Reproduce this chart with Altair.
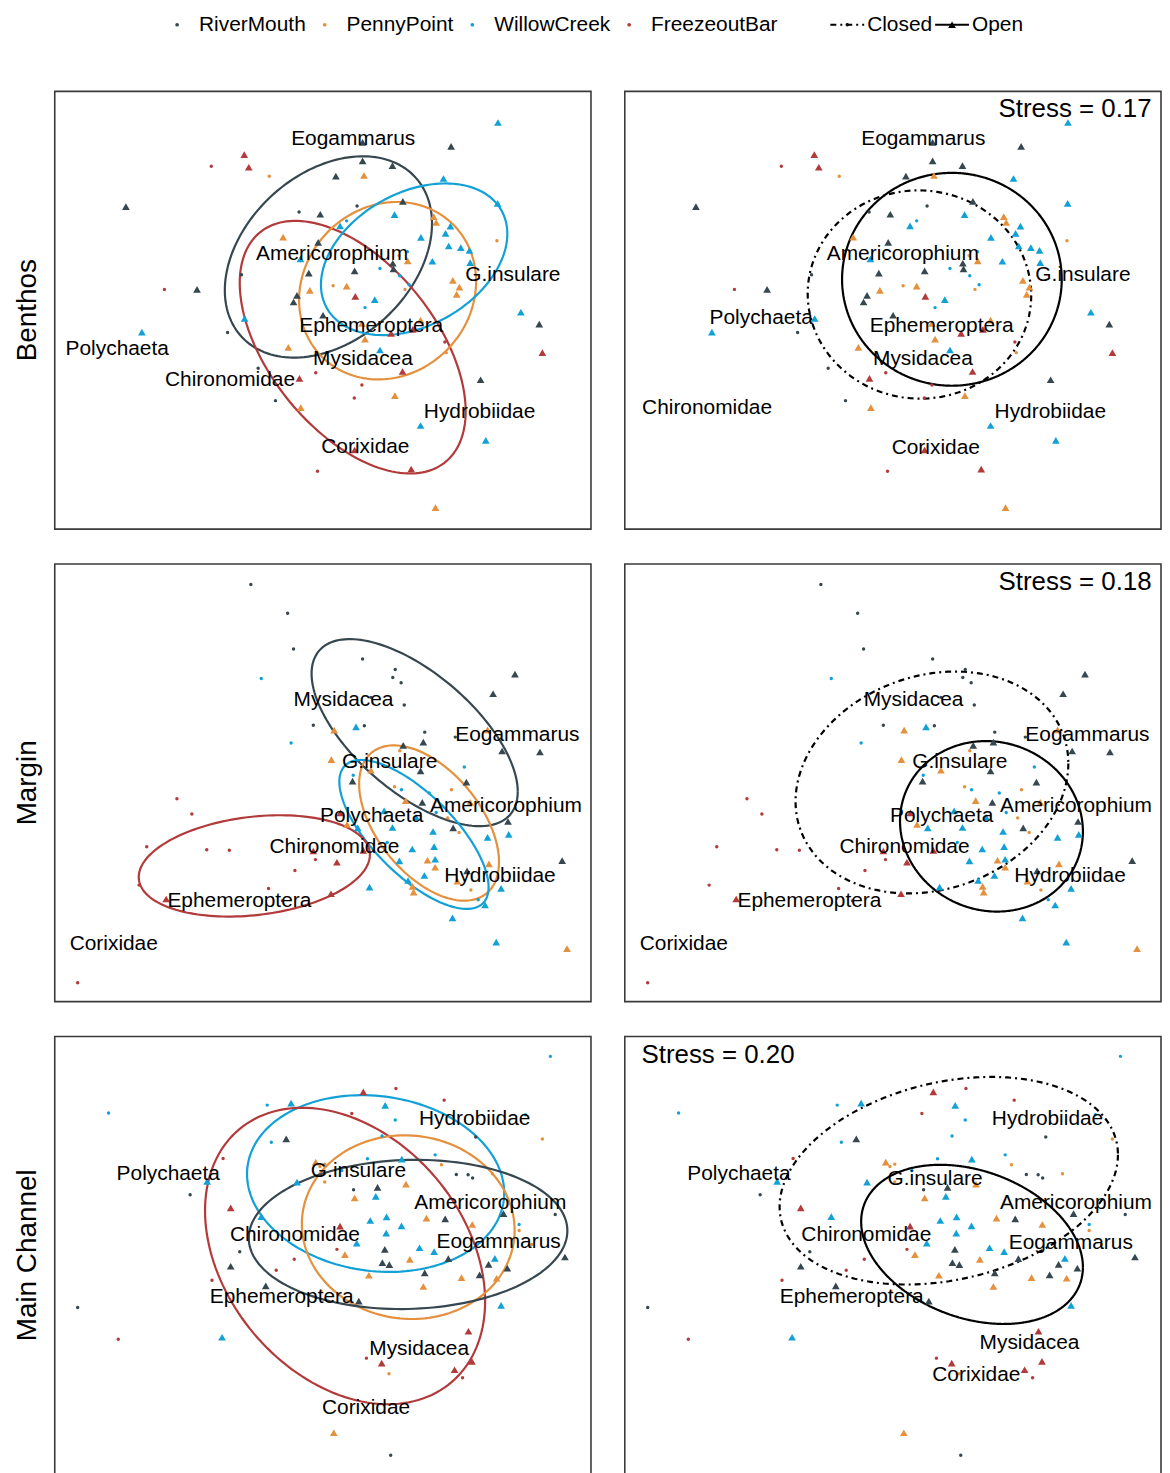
import math
import numpy as np
import pandas as pd
import altair as alt

FONT = "Liberation Sans"

SITES = ["RiverMouth", "PennyPoint", "WillowCreek", "FreezeoutBar"]
SITE_COLORS = ["#36474f", "#e4903d", "#12a1d6", "#b23a3a"]
SITE_CODE = {"R": "RiverMouth", "P": "PennyPoint", "W": "WillowCreek", "F": "FreezeoutBar"}
STATES = ["Closed", "Open"]
STATE_CODE = {"C": "Closed", "O": "Open"}
HABITATS = ["Benthos", "Margin", "Main Channel"]
STRESS = {"Benthos": "0.17", "Margin": "0.18", "Main Channel": "0.20"}

# ---- ordination scores (site, mouth state, NMDS1, NMDS2) ----
benthos_points = [
    ("W","O",1285,108),("R","O",895,168),("R","O",1150,180),("F","O",554,205),("F","O",567,243),
    ("F","C",459,240),("R","O",895,224),("R","O",981,238),("P","C",626,270),("R","O",818,270),
    ("P","O",899,268),("W","O",1128,277),("R","O",213,362),("W","O",1284,352),("R","O",1011,346),
    ("R","C",879,360),("R","C",712,378),("R","O",773,385),("W","O",987,386),("P","O",1100,392),
    ("P","O",1107,410),("W","C",849,405),("W","O",830,420),("W","O",1148,421),("W","O",1134,443),
    ("P","O",666,454),("W","O",1063,455),("R","O",767,470),("P","C",1282,465),("W","O",1143,481),
    ("W","O",1178,486),("W","O",1203,494),("W","O",716,520),("P","C",1000,510),("W","C",1024,498),
    ("P","O",1025,526),("W","O",1096,527),("W","O",1205,531),("R","O",982,533),("R","O",984,550),
    ("R","O",872,556),("R","O",740,563),("W","C",945,549),("W","C",1002,571),("W","C",1029,598),
    ("R","C",546,568),("P","O",1155,585),("P","O",1174,605),("P","O",1166,627),("F","C",324,612),
    ("R","O",418,612),("P","C",810,601),("P","O",849,602),("P","O",743,615),("P","C",1017,612),
    ("R","O",706,630),("R","O",696,650),("F","O",874,633),("W","O",930,643),("W","C",902,667),
    ("R","O",781,690),("W","O",555,700),("P","O",1062,705),("P","O",893,715),("F","O",977,745),
    ("F","O",1040,733),("W","O",259,741),("R","C",506,742),("P","O",902,762),("F","C",1132,771),
    ("P","O",681,787),("W","O",945,795),("P","C",1136,803),("F","O",1010,860),("R","C",594,850),
    ("F","C",760,864),("F","O",713,881),("R","O",1235,885),("F","C",893,901),("F","C",871,940),
    ("P","O",988,933),("R","C",644,948),("P","O",717,969),("W","O",1062,1023),("W","O",1250,1068),
    ("F","O",872,1097),("F","C",765,1161),("F","O",1035,1155),("P","O",1105,1271),("F","O",1413,803),
    ("R","O",1404,717),("W","O",1351,681),
]

margin_points = [
    ("R","C",573,70),("R","C",679,157),("R","C",696,265),("R","C",895,295),("R","C",989,327),
    ("R","C",982,351),("R","C",1006,367),("R","O",1334,341),("R","O",1271,400),("W","C",603,354),
    ("R","C",919,411),("R","C",1015,434),("R","C",753,495),("W","O",876,500),("R","C",900,497),
    ("P","O",813,510),("R","C",1074,516),("R","C",1162,531),("P","O",1255,509),("W","C",689,549),
    ("R","O",1012,556),("R","O",1070,546),("P","C",1002,572),("R","O",1297,573),("R","O",1406,576),
    ("P","O",805,599),("P","O",919,631),("R","O",1062,633),("W","C",1188,621),("W","C",868,646),
    ("R","O",866,664),("R","O",1194,667),("P","C",987,681),("W","C",1007,690),("W","C",1087,700),
    ("P","C",1151,690),("P","O",1019,723),("R","O",1067,728),("P","O",1205,728),("F","O",831,760),
    ("W","O",957,754),("W","O",1049,773),("W","C",1107,759),("P","C",1140,775),("R","O",1314,786),
    ("P","O",850,795),("W","O",881,805),("W","O",981,804),("R","O",1156,805),("W","O",1098,816),
    ("P","C",1173,819),("W","O",1255,834),("W","O",1316,825),("W","C",966,849),("F","C",360,717),
    ("F","C",403,763),("F","C",273,862),("F","C",446,871),("F","C",511,873),("F","O",753,875),
    ("F","O",897,873),("F","C",759,901),("F","O",821,909),("W","O",1038,869),("W","O",1101,862),
    ("W","O",1001,905),("P","O",1082,903),("W","O",1104,900),("P","O",1104,924),("R","O",1470,904),
    ("F","C",700,934),("W","O",1073,949),("P","O",1259,914),("R","O",1196,935),("W","O",1026,964),
    ("P","O",1039,982),("P","O",1042,999),("P","O",1168,966),("P","C",1207,993),("W","O",915,984),
    ("W","O",1294,988),("W","C",1228,1022),("F","C",251,978),("F","C",624,988),("F","O",329,1020),
    ("F","O",804,1004),("F","C",664,1025),("W","O",1248,1038),("W","O",1154,1077),("W","O",1280,1150),
    ("P","O",1484,1170),("F","C",74,1273),
]

main_points = [
    ("W","C",1436,78),("F","O",897,185),("F","C",991,175),("F","C",1130,210),("W","C",163,249),
    ("W","C",620,225),("W","O",689,219),("W","O",960,226),("F","C",864,250),("W","C",989,270),
    ("W","C",1364,254),("R","C",1221,321),("P","C",1413,327),("W","C",632,337),("R","O",675,327),
    ("W","C",951,318),("F","C",493,386),("P","O",760,397),("P","C",786,403),("P","C",772,410),
    ("W","C",909,387),("W","O",1008,388),("W","C",1104,375),("P","C",1122,405),("R","C",1165,434),
    ("R","C",1199,435),("R","C",1212,445),("P","C",1269,432),("W","C",835,422),("W","O",447,455),
    ("R","C",398,495),("W","O",706,457),("P","C",786,457),("R","O",938,473),("W","O",933,500),
    ("R","C",869,480),("P","O",1020,463),("P","O",872,505),("F","O",515,535),("W","O",603,561),
    ("W","O",917,573),("W","O",964,562),("W","O",1007,589),("W","O",963,611),("P","O",1079,566),
    ("R","O",1133,568),("R","O",1301,552),("R","C",1450,555),("P","O",1211,585),("W","C",1346,585),
    ("P","C",1346,603),("F","O",830,590),("W","O",878,641),("P","C",1382,645),("R","C",541,667),
    ("F","C",821,660),("P","O",844,676),("R","O",959,660),("W","O",1059,655),("W","O",1101,667),
    ("R","O",1142,688),("W","O",1276,687),("F","C",698,690),("R","O",952,700),("R","O",972,706),
    ("P","O",1031,690),("R","O",1258,705),("R","O",1312,717),("R","O",1478,683),("R","O",515,711),
    ("F","C",646,723),("R","O",1074,731),("R","O",1232,737),("P","O",913,738),("P","O",1180,745),
    ("P","O",1281,747),("F","C",461,753),("R","O",616,770),("P","O",1070,772),("P","C",775,786),
    ("R","O",884,816),("R","C",74,835),("W","O",1294,829),("W","O",490,925),("F","C",191,931),
    ("F","O",1200,907),("F","C",906,988),("F","O",950,1003),("F","O",1210,998),("F","O",1160,1023),
    ("P","C",971,1035),("F","C",1183,1047),("P","O",812,1213),("R","C",976,1281),
]

# ---- species vectors (label positions) ----
benthos_labels_site = [
    ("Eogammarus",868,157),("Americorophium",807,505),("G.insulare",1328,570),
    ("Ephemeroptera",920,723),("Polychaeta",188,793),("Mysidacea",896,823),
    ("Chironomidae",513,887),("Hydrobiidae",1232,982),("Corixidae",903,1088),
]
benthos_labels_state = [
    ("Eogammarus",868,157),("Americorophium",809,505),("G.insulare",1328,570),
    ("Polychaeta",401,697),("Ephemeroptera",921,723),("Mysidacea",867,823),
    ("Chironomidae",245,970),("Hydrobiidae",1234,982),("Corixidae",904,1090),
]
margin_labels = [
    ("Mysidacea",840,420),("Eogammarus",1341,525),("G.insulare",973,605),
    ("Americorophium",1308,740),("Polychaeta",921,770),("Chironomidae",814,862),
    ("Hydrobiidae",1291,950),("Ephemeroptera",540,1025),("Corixidae",178,1157),
]
main_labels_site = [
    ("Hydrobiidae",1218,268),("Polychaeta",335,432),("G.insulare",883,423),
    ("Americorophium",1263,520),("Chironomidae",700,617),("Eogammarus",1287,638),
    ("Ephemeroptera",662,803),("Mysidacea",1058,960),("Corixidae",905,1137),
]
main_labels_state = [
    ("Hydrobiidae",1226,268),("Polychaeta",337,432),("G.insulare",902,447),
    ("Americorophium",1308,520),("Chironomidae",704,617),("Eogammarus",1293,640),
    ("Ephemeroptera",662,803),("Mysidacea",1174,942),("Corixidae",1021,1038),
]

benthos_site_ell = {
    "RiverMouth": [(498,605),(1095,395),(895,210),(705,818)],
    "FreezeoutBar": [(541,600),(1192,1000),(700,405),(1020,1168)],
    "PennyPoint": [(712,640),(1222,580),(1000,348),(950,884)],
    "WillowCreek": [(775,620),(1312,440),(1110,292),(960,750)],
}
benthos_state_ell = {
    "Closed": [(535,620),(1179,640),(862,313),(852,942)],
    "Open": [(634,580),(1267,585),(951,260),(946,903)],
}
margin_site_ell = {
    "RiverMouth": [(748,330),(1342,700),(860,235),(1220,800)],
    "PennyPoint": [(885,700),(1288,910),(985,556),(1210,1025)],
    "WillowCreek": [(828,690),(1258,970),(870,600),(1210,1050)],
    "FreezeoutBar": [(250,960),(916,880),(640,767),(520,1073)],
}
margin_state_ell = {
    "Closed": [(500,720),(1286,600),(951,333),(823,1003)],
    "Open": [(801,800),(1328,820),(1041,543),(1085,1058)],
}
main_site_ell = {
    "WillowCreek": [(562,430),(1303,490),(900,195),(975,728)],
    "FreezeoutBar": [(441,600),(1248,870),(750,233),(1000,1127)],
    "PennyPoint": [(720,580),(1333,600),(1020,316),(1040,870)],
    "RiverMouth": [(567,610),(1485,595),(1060,390),(1000,840)],
}
main_state_ell = {
    "Closed": [(454,540),(1429,360),(1070,140),(862,766)],
    "Open": [(689,565),(1328,720),(951,405),(1110,885)],
}

POINTS = {"Benthos": benthos_points, "Margin": margin_points, "Main Channel": main_points}
LABELS = {
    ("Benthos", "site"): benthos_labels_site, ("Benthos", "state"): benthos_labels_state,
    ("Margin", "site"): margin_labels, ("Margin", "state"): margin_labels,
    ("Main Channel", "site"): main_labels_site, ("Main Channel", "state"): main_labels_state,
}
ELL = {
    ("Benthos", "site"): benthos_site_ell, ("Benthos", "state"): benthos_state_ell,
    ("Margin", "site"): margin_site_ell, ("Margin", "state"): margin_state_ell,
    ("Main Channel", "site"): main_site_ell, ("Main Channel", "state"): main_state_ell,
}

# ---- layout ----
PANEL_W, PANEL_H = 539, 440
PANEL_GAP = 32
ROW_GAP = 33
TITLE_W, TITLE_GAP = 36, 8
TOTAL_W = TITLE_W + TITLE_GAP + 2 * PANEL_W + PANEL_GAP
X_FRAME = [8, 1553]
Y_FRAME = {"Benthos": [14, 1336], "Margin": [8, 1330], "Main Channel": [18, 1338]}
STRESS_POS = {"Benthos": (1526, 66, "right"), "Margin": (1526, 63, "right"),
              "Main Channel": (56, 75, "left")}
NO_FRAME = alt.ViewBackground(stroke="transparent")

color_scale = alt.Scale(domain=SITES, range=SITE_COLORS)
dash_scale = alt.Scale(domain=STATES, range=[[9, 5, 2, 5], [1, 0]])
shape_scale = alt.Scale(domain=STATES, range=["circle", "triangle-up"])
size_scale = alt.Scale(domain=STATES, range=[16, 72])


def ellipse_path(read, n=160):
    (xl, yl), (xr, yr), (xt, yt), (xb, yb) = read
    cx, cy = (xl + xr) / 2, (yt + yb) / 2
    w, h = (xr - xl) / 2, (yb - yt) / 2
    ests = [(yr - cy) * w, -(yl - cy) * w, -(xt - cx) * h, (xb - cx) * h]
    mxy = sum(ests) / len(ests)
    lim = 0.97 * w * h
    mxy = max(-lim, min(lim, mxy))
    l10 = mxy / w
    l11 = math.sqrt(max(h * h - l10 * l10, 1.0))
    t = np.linspace(0, 2 * np.pi, n + 1)
    return cx + w * np.cos(t), cy + l10 * np.cos(t) + l11 * np.sin(t)


def ell_df(ell_dict, key):
    frames = []
    for name, read in ell_dict.items():
        x, y = ellipse_path(read)
        frames.append(pd.DataFrame({key: name, "x": x, "y": y, "i": np.arange(len(x))}))
    return pd.concat(frames, ignore_index=True)


def pts_df(rows):
    return pd.DataFrame([{"site": SITE_CODE[s], "state": STATE_CODE[t], "x": x, "y": y}
                         for s, t, x, y in rows])


def panel(hab, side):
    X = alt.X("x:Q", scale=alt.Scale(domain=X_FRAME, nice=False, zero=False), axis=None)
    Y = alt.Y("y:Q", scale=alt.Scale(domain=Y_FRAME[hab], nice=False, zero=False, reverse=True),
              axis=None)

    if side == "site":
        ell = alt.Chart(ell_df(ELL[(hab, side)], "site")).mark_line(strokeWidth=2.2).encode(
            x=X, y=Y, detail="site:N", order=alt.Order("i:Q"),
            color=alt.Color("site:N", scale=color_scale, legend=None))
    else:
        ell = alt.Chart(ell_df(ELL[(hab, side)], "state")).mark_line(
            strokeWidth=2.2, color="black").encode(
            x=X, y=Y, detail="state:N", order=alt.Order("i:Q"),
            strokeDash=alt.StrokeDash("state:N", scale=dash_scale, legend=None))

    pts = alt.Chart(pts_df(POINTS[hab])).mark_point(filled=True, opacity=1, strokeWidth=0).encode(
        x=X, y=Y,
        color=alt.Color("site:N", scale=color_scale, legend=None),
        shape=alt.Shape("state:N", scale=shape_scale, legend=None),
        size=alt.Size("state:N", scale=size_scale, legend=None))

    lab = pd.DataFrame(LABELS[(hab, side)], columns=["species", "x", "y"])
    txt = alt.Chart(lab).mark_text(font=FONT, fontSize=21, color="black",
                                   align="center", baseline="middle").encode(
        x=X, y=Y, text="species:N")

    layers = [ell, pts, txt]
    if side == "state":
        sx, sy, al = STRESS_POS[hab]
        sdf = pd.DataFrame([{"x": sx, "y": sy, "label": f"Stress = {STRESS[hab]}"}])
        layers.append(alt.Chart(sdf).mark_text(font=FONT, fontSize=26, color="black",
                                               align=al, baseline="middle").encode(
            x=X, y=Y, text="label:N"))
    return alt.layer(*layers).properties(width=PANEL_W, height=PANEL_H)


def row_title(hab):
    return alt.Chart(pd.DataFrame({"t": [hab]})).mark_text(
        font=FONT, fontSize=28, angle=270, align="center", baseline="middle", color="black"
    ).encode(x=alt.value(19.5), y=alt.value(PANEL_H / 2), text="t:N").properties(
        width=TITLE_W, height=PANEL_H, view=NO_FRAME)


# ---- legend ----
CHAR_W = {"R": .722, "i": .222, "v": .5, "e": .556, "r": .333, "M": .833, "o": .556, "u": .556,
          "t": .278, "h": .556, "P": .667, "n": .556, "y": .5, "W": .944, "l": .222, "w": .722,
          "C": .722, "k": .5, "F": .611, "z": .5, "B": .667, "a": .556, "s": .5, "d": .556,
          "O": .778, "p": .556}


def text_w(s, size):
    return sum(CHAR_W.get(c, 0.556) for c in s) * size


LEG_FS = 21
LEG_H = 36
LEG_Y = 12
x = 169
leg_pts, leg_txt, leg_lines, leg_marks = [], [], [], []
for s in SITES:
    leg_pts.append({"x": x, "y": LEG_Y, "site": s})
    leg_txt.append({"x": x + 22, "y": LEG_Y, "label": s})
    x = x + 22 + text_w(s, LEG_FS) + 19
x += 34
for st in STATES:
    leg_lines.append({"x": x, "y": LEG_Y, "state": st})
    leg_lines.append({"x": x + 34, "y": LEG_Y, "state": st})
    leg_marks.append({"x": x + 17, "y": LEG_Y, "state": st})
    leg_txt.append({"x": x + 37, "y": LEG_Y, "label": st})
    x = x + 37 + text_w(st, LEG_FS) + 3

LX = alt.X("x:Q", scale=alt.Scale(domain=[0, TOTAL_W], nice=False, zero=False), axis=None)
LY = alt.Y("y:Q", scale=alt.Scale(domain=[0, LEG_H], nice=False, zero=False, reverse=True), axis=None)

leg_a = alt.Chart(pd.DataFrame(leg_pts)).mark_point(filled=True, opacity=1, strokeWidth=0, size=14).encode(
    x=LX, y=LY, color=alt.Color("site:N", scale=color_scale, legend=None))
leg_b = alt.Chart(pd.DataFrame(leg_txt)).mark_text(font=FONT, fontSize=LEG_FS, color="black",
                                                    align="left", baseline="middle").encode(
    x=LX, y=LY, text="label:N")
leg_c = alt.Chart(pd.DataFrame(leg_lines)).mark_line(color="black", strokeWidth=2).encode(
    x=LX, y=LY, detail="state:N",
    strokeDash=alt.StrokeDash("state:N", scale=alt.Scale(domain=STATES, range=[[6, 4, 2, 4], [1, 0]]), legend=None))
leg_d = alt.Chart(pd.DataFrame(leg_marks)).mark_point(filled=True, opacity=1, strokeWidth=0, color="black").encode(
    x=LX, y=LY,
    shape=alt.Shape("state:N", scale=shape_scale, legend=None),
    size=alt.Size("state:N", scale=alt.Scale(domain=STATES, range=[12, 60]), legend=None))
legend = alt.layer(leg_c, leg_d, leg_a, leg_b).properties(
    width=TOTAL_W, height=LEG_H, view=NO_FRAME)

rows = [alt.hconcat(row_title(h),
                    alt.hconcat(panel(h, "site"), panel(h, "state"), spacing=PANEL_GAP),
                    spacing=TITLE_GAP) for h in HABITATS]

chart = alt.vconcat(legend, alt.vconcat(*rows, spacing=ROW_GAP), spacing=41).properties(
    padding=0,
    background="white",
).configure_view(stroke="#3a3a3a", strokeWidth=1.6)

chart.save("out.html", embed_options={"renderer": "svg", "actions": False})
